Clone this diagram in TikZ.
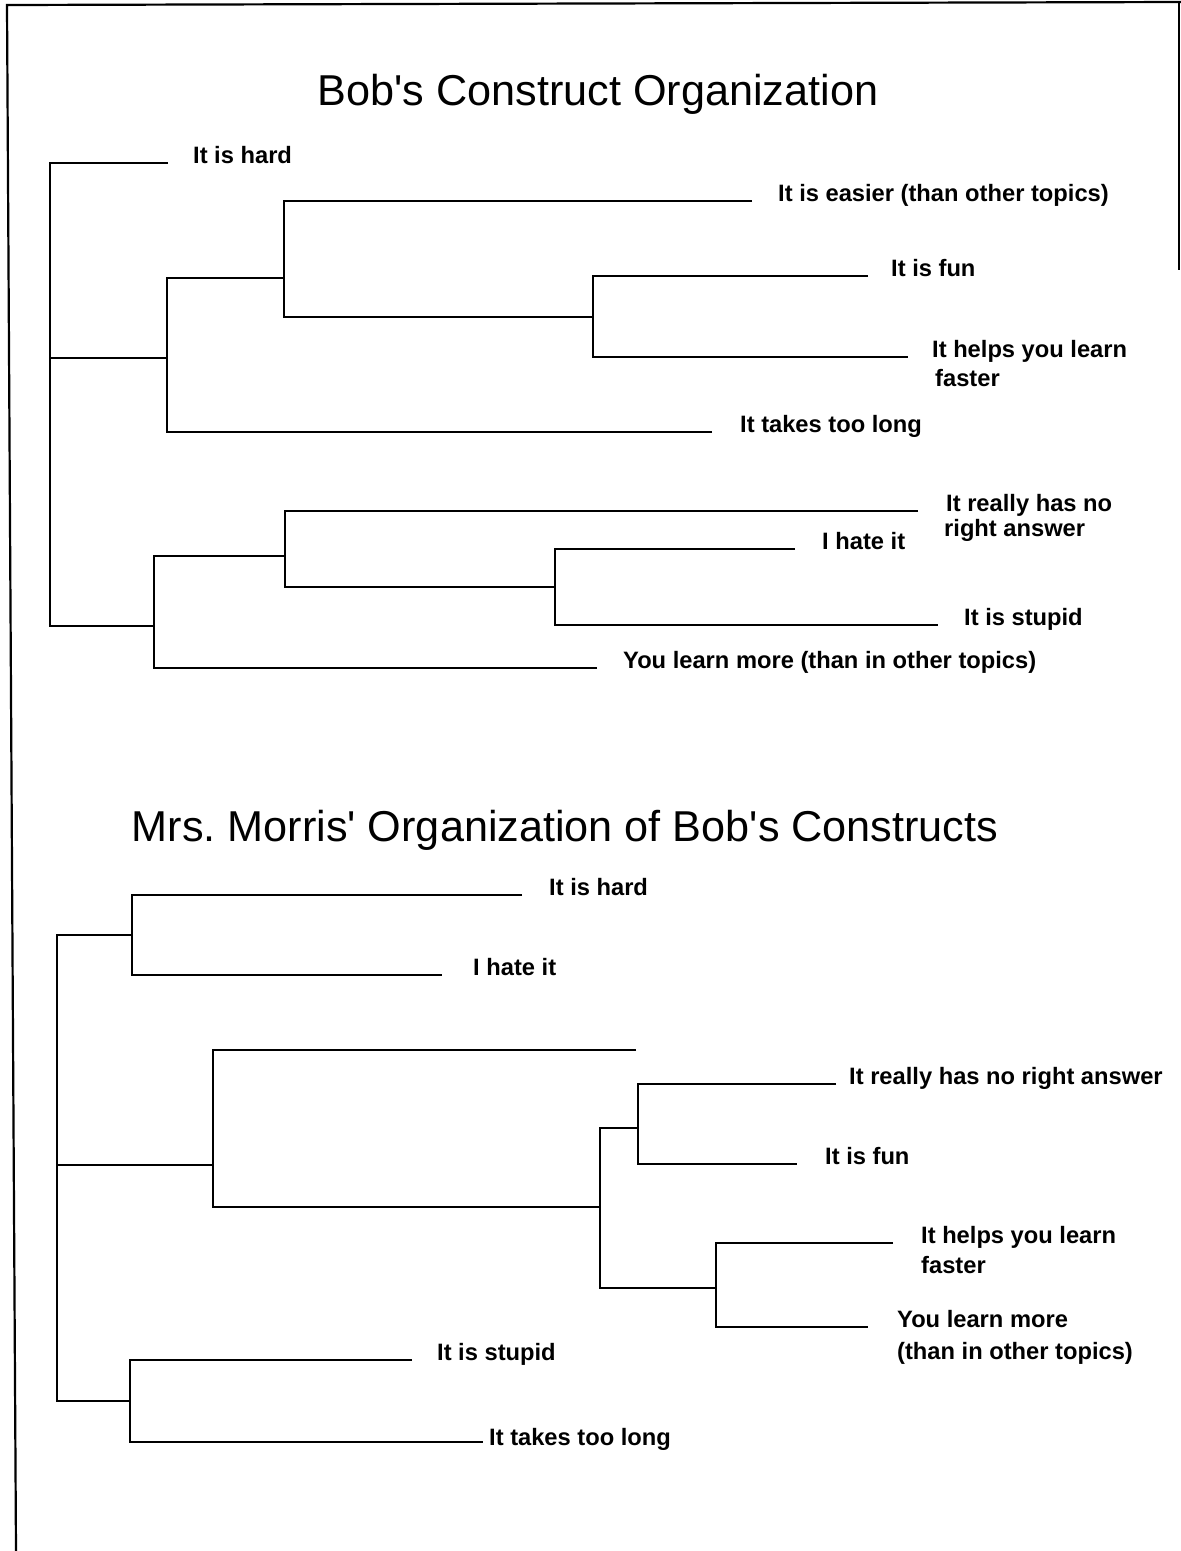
\documentclass[tikz,border=0pt]{standalone}
\usepackage{fontspec}
\newfontfamily\labfont[Ligatures=TeXOff]{Liberation Sans Bold}
\newfontfamily\titfont[Ligatures=TeXOff]{Liberation Sans}
\frenchspacing
\tikzset{
  lab/.style={font=\labfont\fontsize{23.7}{28}\selectfont, inner sep=0pt, anchor=base west},
  tit/.style={font=\titfont\fontsize{43.2}{48}\selectfont, inner sep=0pt, anchor=base},
  br/.style={line width=1.8pt, line join=miter, line cap=butt},
  frame/.style={line width=2.2pt}
}
\begin{document}
\begin{tikzpicture}[x=1pt,y=-1pt]
\useasboundingbox (0,0) rectangle (1181,1551);
\fill[white] (0,0) rectangle (1181,1551);

% frame
\coordinate (fr-tl) at (7,5);
\coordinate (fr-bl) at (16,1551);
\coordinate (fr-tr) at (1181,2);
\coordinate (fr-rt) at (1179,2);
\coordinate (fr-rb) at (1179,270);
\draw[frame] (fr-bl) -- (fr-tl) -- (fr-tr);
\draw[line width=1.2pt] (fr-rt) -- (fr-rb);

% ================= top tree =================
\node[tit] (title1) at (598,105) {Bob's Construct Organization};

\coordinate (r1t) at (50,163);
\coordinate (r1b) at (50,626);
\coordinate (j1) at (50,358);
\coordinate (e-hard) at (168,163);
\coordinate (v1m) at (167,358);
\coordinate (v1t) at (167,278);
\coordinate (v1b) at (167,432);
\coordinate (v2m) at (284,278);
\coordinate (v2t) at (284,201);
\coordinate (v2b) at (284,317);
\coordinate (e-easier) at (752,201);
\coordinate (v3m) at (593,317);
\coordinate (v3t) at (593,276);
\coordinate (v3b) at (593,357);
\coordinate (e-fun) at (868,276);
\coordinate (e-helps) at (908,357);
\coordinate (e-takes) at (712,432);
\coordinate (v4m) at (154,626);
\coordinate (v4t) at (154,556);
\coordinate (v4b) at (154,668);
\coordinate (v5m) at (285,556);
\coordinate (v5t) at (285,511);
\coordinate (v5b) at (285,587);
\coordinate (e-really) at (918,511);
\coordinate (v6m) at (555,587);
\coordinate (v6t) at (555,549);
\coordinate (v6b) at (555,625);
\coordinate (e-hate) at (795,549);
\coordinate (e-stupid) at (938,625);
\coordinate (e-learn) at (597,668);

\draw[br] (e-hard) -- (r1t) -- (r1b) -- (v4m);
\draw[br] (j1) -- (v1m);
\draw[br] (e-takes) -- (v1b) -- (v1t) -- (v2m);
\draw[br] (e-easier) -- (v2t) -- (v2b) -- (v3m);
\draw[br] (e-fun) -- (v3t) -- (v3b) -- (e-helps);
\draw[br] (e-learn) -- (v4b) -- (v4t) -- (v5m);
\draw[br] (e-really) -- (v5t) -- (v5b) -- (v6m);
\draw[br] (e-hate) -- (v6t) -- (v6b) -- (e-stupid);

\node[lab] (l-hard) at (193,163) {It is hard};
\node[lab] (l-easier) at (778,201) {It is easier (than other topics)};
\node[lab] (l-fun) at (891,276) {It is fun};
\node[lab] (l-helps) at (932,357) {It helps you learn};
\node[lab] (l-helps2) at (935,386) {faster};
\node[lab] (l-takes) at (740,432) {It takes too long};
\node[lab] (l-really) at (946,511) {It really has no};
\node[lab] (l-really2) at (944,536) {right answer};
\node[lab] (l-hate) at (822,549) {I hate it};
\node[lab] (l-stupid) at (964,625) {It is stupid};
\node[lab] (l-learn) at (623,668) {You learn more (than in other topics)};

% ================= bottom tree =================
\node[tit] (title2) at (565,841) {Mrs. Morris' Organization of Bob's Constructs};

\coordinate (r2t) at (57,935);
\coordinate (r2b) at (57,1401);
\coordinate (w1m) at (132,935);
\coordinate (w1t) at (132,895);
\coordinate (w1b) at (132,975);
\coordinate (f-hard) at (522,895);
\coordinate (f-hate) at (442,975);
\coordinate (j2) at (57,1165);
\coordinate (w2m) at (213,1165);
\coordinate (w2t) at (213,1050);
\coordinate (w2b) at (213,1207);
\coordinate (f-blank) at (636,1050);
\coordinate (w3m) at (600,1207);
\coordinate (w3t) at (600,1128);
\coordinate (w3b) at (600,1288);
\coordinate (w4m) at (638,1128);
\coordinate (w4t) at (638,1084);
\coordinate (w4b) at (638,1164);
\coordinate (f-really) at (836,1084);
\coordinate (f-fun) at (797,1164);
\coordinate (w5m) at (716,1288);
\coordinate (w5t) at (716,1243);
\coordinate (w5b) at (716,1327);
\coordinate (f-helps) at (893,1243);
\coordinate (f-learn) at (868,1327);
\coordinate (w6m) at (130,1401);
\coordinate (w6t) at (130,1360);
\coordinate (w6b) at (130,1442);
\coordinate (f-stupid) at (412,1360);
\coordinate (f-takes) at (483,1442);

\draw[br] (w1m) -- (r2t) -- (r2b) -- (w6m);
\draw[br] (f-hard) -- (w1t) -- (w1b) -- (f-hate);
\draw[br] (j2) -- (w2m);
\draw[br] (f-blank) -- (w2t) -- (w2b) -- (w3m);
\draw[br] (w4m) -- (w3t) -- (w3b) -- (w5m);
\draw[br] (f-really) -- (w4t) -- (w4b) -- (f-fun);
\draw[br] (f-helps) -- (w5t) -- (w5b) -- (f-learn);
\draw[br] (f-stupid) -- (w6t) -- (w6b) -- (f-takes);

\node[lab] (m-hard) at (549,895) {It is hard};
\node[lab] (m-hate) at (473,975) {I hate it};
\node[lab] (m-really) at (849,1084) {It really has no right answer};
\node[lab] (m-fun) at (825,1164) {It is fun};
\node[lab] (m-helps) at (921,1243) {It helps you learn};
\node[lab] (m-helps2) at (921,1273) {faster};
\node[lab] (m-learn) at (897,1327) {You learn more};
\node[lab] (m-learn2) at (897,1359) {(than in other topics)};
\node[lab] (m-stupid) at (437,1360) {It is stupid};
\node[lab] (m-takes) at (489,1445) {It takes too long};
\end{tikzpicture}
\end{document}
